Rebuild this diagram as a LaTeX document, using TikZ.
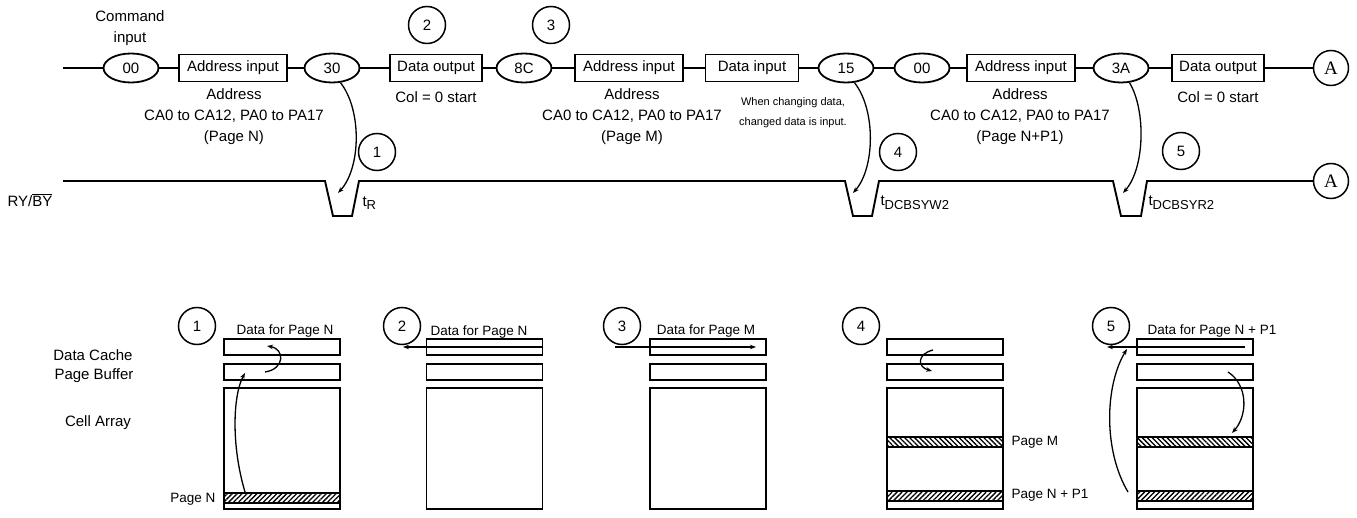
\documentclass[tikz,border=0pt]{standalone}
\usepackage{fontspec}
\setmainfont{Liberation Sans}
\newfontfamily\serifA{Liberation Serif}
\usetikzlibrary{
  arrows.meta,
  shapes.geometric,
  patterns.meta
}
\newcommand{\tsub}[1]{\raisebox{-0.45ex}{\fontsize{13}{13}\selectfont #1}}

\begin{document}
\begin{tikzpicture}[
  x=1pt, y=-1pt,
  every node/.style={font=\fontsize{15}{21}\selectfont},
  cmd/.style={draw, ellipse, line width=1.8pt, minimum width=55pt, minimum height=29pt, inner sep=0pt},
  fld/.style={draw, line width=1.8pt, minimum height=27pt, inner sep=0pt},
  num/.style={draw, circle, line width=1.5pt, minimum size=37pt, inner sep=0pt},
  conn/.style={draw, circle, line width=1.5pt, minimum size=35pt, inner sep=0pt,
               font=\serifA\fontsize{19}{19}\selectfont},
  note/.style={align=center},
  hint/.style={align=center, font=\fontsize{11}{20}\selectfont},
  pagetxt/.style={font=\fontsize{13.5}{16}\selectfont},
  bufbox/.style={draw, line width=1.8pt, minimum width=116pt, minimum height=16pt, inner sep=0pt},
  cellbox/.style={draw, line width=1.8pt, minimum width=116pt, minimum height=121pt, inner sep=0pt},
  pageNE/.style={draw, line width=1.8pt, minimum width=116pt, minimum height=10pt, inner sep=0pt,
                 pattern={Lines[angle=45, distance=3.5pt, line width=1.3pt]}},
  pageNW/.style={draw, line width=1.8pt, minimum width=116pt, minimum height=10pt, inner sep=0pt,
                 pattern={Lines[angle=-45, distance=3.5pt, line width=1.3pt]}},
  wire/.style={line width=1.9pt},
  flow/.style={-{Stealth[length=6pt, width=4.5pt]}, line width=1.3pt}
]
\useasboundingbox (0,0) rectangle (1357,518);

% command sequence
\node[note] (cmdnote) at (130,28) {Command\\input};
\coordinate (cmdin) at (63,68);
\node[cmd] (c00a) at (131,68) {00};
\node[fld, minimum width=108pt] (ad1) at (233,68) {Address input};
\node[cmd] (c30) at (332,68) {30};
\node[fld, minimum width=92pt] (do1) at (436,68) {Data output};
\node[cmd] (c8C) at (524,68) {8C};
\node[fld, minimum width=108pt] (ad2) at (629,68) {Address input};
\node[fld, minimum width=93pt] (di) at (752,68) {Data input};
\node[cmd] (c15) at (846,68) {15};
\node[cmd] (c00b) at (922,68) {00};
\node[fld, minimum width=108pt] (ad3) at (1021,68) {Address input};
\node[cmd] (c3A) at (1121,68) {3A};
\node[fld, minimum width=92pt] (do2) at (1218,68) {Data output};
\node[conn] (conA1) at (1331,68) {A};

\draw[wire] (cmdin) -- (c00a) -- (ad1) -- (c30) -- (do1) -- (c8C) -- (ad2) -- (di)
  -- (c15) -- (c00b) -- (ad3) -- (c3A) -- (do2) -- (conA1);

\node[note] (ad1note) at (234,117) {Address\\CA0 to CA12, PA0 to PA17\\(Page N)};
\node (do1note) at (436,97) {Col = 0 start};
\node[note] (ad2note) at (632,117) {Address\\CA0 to CA12, PA0 to PA17\\(Page M)};
\node[hint] (dinote) at (793,113) {When changing data,\\changed data is input.};
\node[note] (ad3note) at (1020,117) {Address\\CA0 to CA12, PA0 to PA17\\(Page N+P1)};
\node (do2note) at (1218,97) {Col = 0 start};

\node[num] (s2) at (427,25) {2};
\node[num] (s3) at (551,25) {3};
\node[num] (s1) at (377,152) {1};
\node[num] (s4) at (898,152) {4};
\node[num] (s5) at (1181,151) {5};

% ready/busy
\node (rylabel) at (30,200) {RY/$\overline{\hbox{BY}}$};
\coordinate (rystart) at (63,181);
\node[conn] (conA2) at (1331,181) {A};
\draw[wire] (rystart) -- (325,181) -- (333,216) -- (352,216) -- (359,181)
  -- (845,181) -- (853,216) -- (872,216) -- (879,181)
  -- (1113,181) -- (1121,216) -- (1141,216) -- (1147,181) -- (conA2);

\node[anchor=west] (tr) at (359,203) {t\tsub{R}};
\node[anchor=west] (tw) at (877,203) {t\tsub{DCBSYW2}};
\node[anchor=west] (tr2) at (1145,203) {t\tsub{DCBSYR2}};

\coordinate (d1) at (338,193);
\coordinate (d4) at (853,193);
\coordinate (d5) at (1123,193);
\draw[flow] (c30.-60) .. controls (362,110) and (361,168) .. (d1);
\draw[flow] (c15.-60) .. controls (876,110) and (875,168) .. (d4);
\draw[flow] (c3A.-60) .. controls (1146,110) and (1145,168) .. (d5);

% buffers and cell array
\node (dclabel) at (93,355) {Data Cache};
\node (pblabel) at (94,376) {Page Buffer};
\node (calabel) at (98,423) {Cell Array};

\node[bufbox] (dc1) at (282,347) {};
\node[bufbox] (pb1) at (282,372) {};
\node[cellbox] (ca1) at (282,448.5) {};
\node[pageNE] (pn1) at (282,498) {};

\node[bufbox] (dc2) at (484.5,347) {};
\node[bufbox] (pb2) at (484.5,372) {};
\node[cellbox] (ca2) at (484.5,448.5) {};

\node[bufbox] (dc3) at (708,347) {};
\node[bufbox] (pb3) at (708,372) {};
\node[cellbox] (ca3) at (708,448.5) {};

\node[bufbox] (dc4) at (945,347) {};
\node[bufbox] (pb4) at (945,372) {};
\node[cellbox] (ca4) at (945,448.5) {};
\node[pageNW] (pm4) at (945,442) {};
\node[pageNE] (pp4) at (945,496) {};

\node[bufbox] (dc5) at (1195,347) {};
\node[bufbox] (pb5) at (1195,372) {};
\node[cellbox] (ca5) at (1195,448.5) {};
\node[pageNW] (pm5) at (1195,442) {};
\node[pageNE] (pp5) at (1195,496) {};

\node[num] (b1) at (197,326) {1};
\node[num] (b2) at (402,326) {2};
\node[num] (b3) at (622,326) {3};
\node[num] (b4) at (861,326) {4};
\node[num] (b5) at (1111,326) {5};

\node[pagetxt] (dl1) at (285,331) {Data for Page N};
\node[pagetxt] (dl2) at (479,332) {Data for Page N};
\node[pagetxt] (dl3) at (706,331) {Data for Page M};
\node[pagetxt] (dl5) at (1212,331) {Data for Page N + P1};

\node[pagetxt, anchor=east] (pnlab) at (219,499) {Page N};
\node[pagetxt, anchor=west] (pmlab) at (1008,442) {Page M};
\node[pagetxt, anchor=west] (pplab) at (1008,495) {Page N + P1};

% transfers
\coordinate (a1s) at (245,492);
\coordinate (a1e) at (245,373);
\coordinate (a1b) at (265,372);
\coordinate (a1c) at (267,346);
\draw[flow] (a1s) .. controls (231,445) and (233,395) .. (a1e);
\draw[flow] (a1b) .. controls (285,369) and (285,349) .. (a1c);

\coordinate (a2e) at (403,347);
\draw[flow] (dc2.east) -- (a2e);

\coordinate (a3s) at (615,347);
\coordinate (a3e) at (756,347);
\draw[flow] (a3s) -- (a3e);

\coordinate (a4s) at (933,350);
\coordinate (a4e) at (932,371);
\draw[flow] (a4s) .. controls (917,354) and (917,367) .. (a4e);

\coordinate (a5s) at (1245,347);
\coordinate (a5e) at (1107,347);
\coordinate (a5p) at (1128,492);
\coordinate (a5q) at (1127,349);
\coordinate (a5r) at (1228,372);
\coordinate (a5t) at (1232,433);
\draw[flow] (a5s) -- (a5e);
\draw[flow] (a5p) .. controls (1103,450) and (1105,385) .. (a5q);
\draw[flow] (a5r) .. controls (1248,385) and (1248,415) .. (a5t);

\end{tikzpicture}
\end{document}
